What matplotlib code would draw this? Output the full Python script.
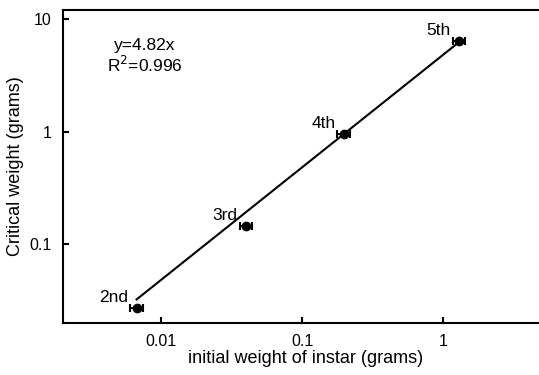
import numpy as np
import matplotlib
matplotlib.use("Agg")
import matplotlib.pyplot as plt

plt.rcParams['font.family'] = ['Liberation Sans', 'DejaVu Sans']

# instar data
instars = ['2nd', '3rd', '4th', '5th']
initial_weight = [0.0067, 0.040, 0.198, 1.30]
critical_weight = [0.027, 0.145, 0.96, 6.4]
weight_err = [0.0007, 0.004, 0.02, 0.13]
slope = 4.82

fig = plt.figure(figsize=(5.39, 3.75), dpi=100)
ax = fig.add_axes([0.116, 0.139, 0.9, 0.834])

# fitted line through the range of data
fit_x = np.array([initial_weight[0], initial_weight[-1]])
ax.plot(fit_x, slope * fit_x, color='black', lw=1.5)

ax.errorbar(initial_weight, critical_weight, xerr=weight_err, fmt='o',
            color='black', ms=6, capsize=3, elinewidth=1.5, capthick=1.5)

for name, x, y in zip(instars, initial_weight, critical_weight):
    ax.annotate(name, (x, y), xytext=(-6, 2), textcoords='offset points',
                ha='right', va='bottom', fontsize=12.5)

ax.set_xscale('log')
ax.set_yscale('log')
ax.set_xlim(0.002, 5.5)
ax.set_ylim(0.02, 12)
ax.set_xticks([0.01, 0.1, 1])
ax.set_xticklabels(['0.01', '0.1', '1'])
ax.set_yticks([0.1, 1, 10])
ax.set_yticklabels(['0.1', '1', '10'])
ax.minorticks_off()
ax.tick_params(direction='in', length=4, width=1.5, labelsize=11.5, pad=8)

for s in ['left', 'bottom', 'top']:
    ax.spines[s].set_linewidth(1.5)
ax.spines['right'].set_visible(False)

ax.text(0.0077, 5.3, 'y=4.82x', fontsize=12.5, ha='center', va='baseline')
ax.text(0.0077, 3.38, 'R$^2$=0.996', fontsize=12.5, ha='center', va='baseline')

ax.set_xlabel('initial weight of instar (grams)', fontsize=13, labelpad=1)
ax.set_ylabel('Critical weight (grams)', fontsize=13, labelpad=4)

plt.savefig('out.png', dpi=100)
plt.close()
